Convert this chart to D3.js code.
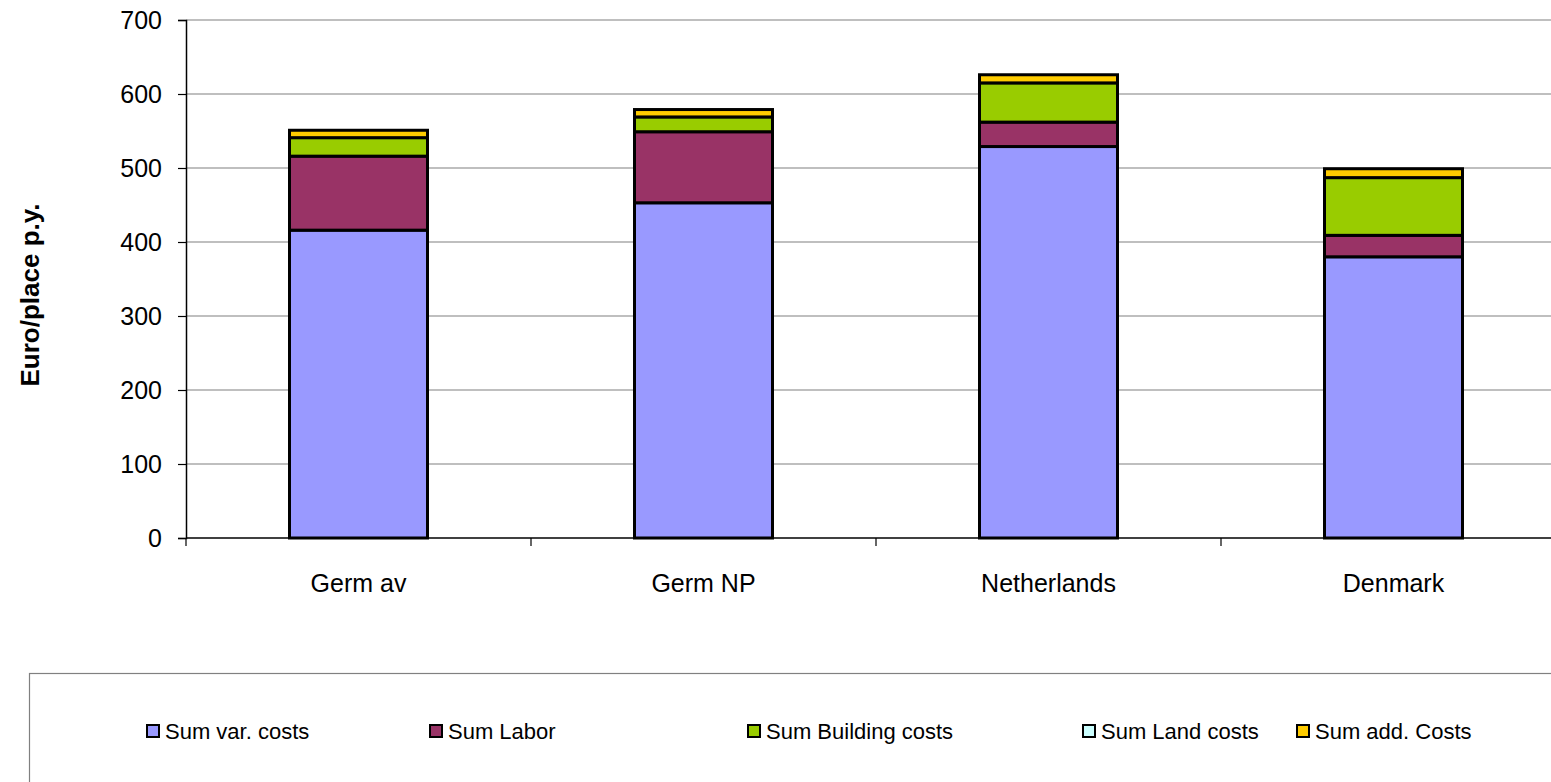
<!DOCTYPE html>
<meta charset="utf-8">
<script src="https://d3js.org/d3.v7.min.js"></script>
<style>
  body { margin: 0; background: #fff; }
  svg text { font-family: "Liberation Sans", Arial, sans-serif; fill: #000; }
</style>
<body>
<svg id="chart" width="1551" height="782"></svg>
<script>
// categories and series (Euro/place p.y.)
var countries = ["Germ av", "Germ NP", "Netherlands", "Denmark"];
var seriesNames = ["Sum var. costs", "Sum Labor", "Sum Building costs", "Sum Land costs", "Sum add. Costs"];
var varCosts      = [416, 453, 529, 380];
var laborCosts    = [100, 96, 33, 29];
var buildingCosts = [25, 20, 53, 78];
var landCosts     = [0, 0, 0, 0];
var addCosts      = [10, 10, 11, 12];
var yTicks = [0, 100, 200, 300, 400, 500, 600, 700];

var colors = ["#9999FF", "#993366", "#99CC00", "#CCFFFF", "#FFCC00"];

var svg = d3.select("#chart");

// plot area
var plotLeft = 186, plotRight = 1566, plotTop = 20, plotBottom = 538;

var x = d3.scaleBand()
  .domain(countries)
  .range([plotLeft, plotRight])
  .paddingInner(0.6)
  .paddingOuter(0.3);

var y = d3.scaleLinear()
  .domain([0, 700])
  .range([plotBottom, plotTop]);

// build table for stacking
var table = countries.map(function(c, i) {
  return {
    country: c,
    "Sum var. costs": varCosts[i],
    "Sum Labor": laborCosts[i],
    "Sum Building costs": buildingCosts[i],
    "Sum Land costs": landCosts[i],
    "Sum add. Costs": addCosts[i]
  };
});
var stacked = d3.stack().keys(seriesNames)(table);

// gridlines
svg.append("g")
  .selectAll("line")
  .data(yTicks.filter(function(d) { return d > 0; }))
  .enter().append("line")
    .attr("x1", plotLeft).attr("x2", plotRight)
    .attr("y1", function(d) { return y(d); })
    .attr("y2", function(d) { return y(d); })
    .attr("stroke", "#808080")
    .attr("stroke-width", 1.2);

// y axis
var yAxis = svg.append("g")
  .attr("transform", "translate(" + plotLeft + ",0)")
  .call(d3.axisLeft(y).tickValues(yTicks).tickSize(8).tickPadding(16));
yAxis.select(".domain").attr("stroke", "#000").attr("stroke-width", 1.5);
yAxis.selectAll(".tick line").attr("stroke", "#000").attr("stroke-width", 1.2);
yAxis.selectAll("text").style("font-size", "25px").attr("font-family", null);

// bars
svg.append("g")
  .selectAll("g")
  .data(stacked)
  .enter().append("g")
    .attr("fill", function(d, i) { return colors[i]; })
  .selectAll("rect")
  .data(function(d) { return d.filter(function(p) { return p[1] - p[0] > 0; }); })
  .enter().append("rect")
    .attr("x", function(d) { return x(d.data.country); })
    .attr("width", x.bandwidth())
    .attr("y", function(d) { return y(d[1]); })
    .attr("height", function(d) { return y(d[0]) - y(d[1]); })
    .attr("stroke", "#000")
    .attr("stroke-width", 3);

// x axis line with category boundary ticks
var bounds = d3.range(countries.length + 1).map(function(i) {
  return plotLeft + i * (plotRight - plotLeft) / countries.length;
});
svg.append("line")
  .attr("x1", plotLeft).attr("x2", plotRight)
  .attr("y1", plotBottom).attr("y2", plotBottom)
  .attr("stroke", "#000").attr("stroke-width", 1.5);
svg.append("g").selectAll("line")
  .data(bounds)
  .enter().append("line")
    .attr("x1", function(d) { return d; }).attr("x2", function(d) { return d; })
    .attr("y1", plotBottom).attr("y2", plotBottom + 8)
    .attr("stroke", "#000").attr("stroke-width", 1.2);

svg.append("g").selectAll("text")
  .data(countries)
  .enter().append("text")
    .attr("x", function(d) { return x(d) + x.bandwidth() / 2; })
    .attr("y", 592)
    .attr("text-anchor", "middle")
    .style("font-size", "25px")
    .text(function(d) { return d; });

// y axis title
svg.append("text")
  .attr("transform", "translate(39,295) rotate(-90)")
  .attr("text-anchor", "middle")
  .style("font-size", "26px")
  .style("font-weight", "bold")
  .text("Euro/place p.y.");

// legend
var legend = svg.append("g");
legend.append("rect")
  .attr("x", 29.5).attr("y", 673.5)
  .attr("width", 1600).attr("height", 200)
  .attr("fill", "none")
  .attr("stroke", "#808080")
  .attr("stroke-width", 1.2);

var legendX = [147, 430, 748, 1083, 1297];
var items = legend.selectAll("g.item")
  .data(seriesNames)
  .enter().append("g")
    .attr("class", "item")
    .attr("transform", function(d, i) { return "translate(" + legendX[i] + ",725)"; });
items.append("rect")
  .attr("width", 12).attr("height", 12)
  .attr("fill", function(d, i) { return colors[i]; })
  .attr("stroke", "#000")
  .attr("stroke-width", 2);
items.append("text")
  .attr("x", 18)
  .attr("y", 14)
  .style("font-size", "22px")
  .text(function(d) { return d; });
</script>
</body>
